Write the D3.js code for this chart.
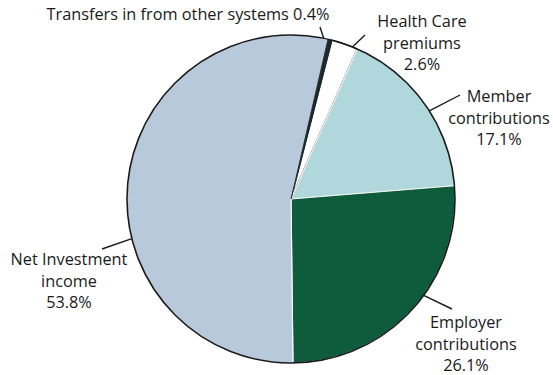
<!DOCTYPE html>
<html>
<head>
<meta charset="utf-8">
<script src="https://cdn.jsdelivr.net/npm/d3@7"></script>
<style>
  html, body { margin: 0; padding: 0; background: #fff; }
  svg { display: block; }
  text { font-family: "Open Sans", sans-serif; fill: #1a1a1a; }
</style>
</head>
<body>
<svg id="chart" width="553" height="375"></svg>
<script>
// Revenue sources, in percent of total
const categories = [
  "Transfers in from other systems",
  "Health Care premiums",
  "Member contributions",
  "Employer contributions",
  "Net Investment income"
];
const values = [0.4, 2.6, 17.1, 26.1, 53.8];
const valueLabels = ["0.4%", "2.6%", "17.1%", "26.1%", "53.8%"];
const labelLines = [
  ["Transfers in from other systems 0.4%"],
  ["Health Care", "premiums", "2.6%"],
  ["Member", "contributions", "17.1%"],
  ["Employer", "contributions", "26.1%"],
  ["Net Investment", "income", "53.8%"]
];

// Slice colours
const fills = ["#1d2a2b", "#ffffff", "#b0d7db", "#0e5c3c", "#b7c9db"];

// Label placement: text anchor, leader start angle (deg, clockwise from 12 o'clock), leader end
const labelLayout = [
  { x: 188, y: 20, leaderDeg: 11.5, lx: 320, ly: 27 },
  { x: 422, y: 27, leaderDeg: 22, lx: 365, ly: 35 },
  { x: 499, y: 102, leaderDeg: 57.5, lx: 460, ly: 95 },
  { x: 466, y: 328, leaderDeg: 126, lx: 452, ly: 309 },
  { x: 69, y: 265, leaderDeg: 256, lx: 102, ly: 249 }
];

const svg = d3.select("#chart");
const cx = 291, cy = 199, R = 164;
const rad = d => d * Math.PI / 180;

const pie = d3.pie()
  .sort(null)
  .value(d => d)
  .startAngle(rad(13))
  .endAngle(rad(13 + 360));

const arcs = pie(values);
const arc = d3.arc().innerRadius(0).outerRadius(R);

const g = svg.append("g").attr("transform", `translate(${cx},${cy})`);

// Dark border for the narrow slices, light seams elsewhere
const strokes = ["#1d2a2b", "#1a1a1a", "#f4f6f6", "#f4f6f6", "#f4f6f6"];
const strokeW = [0.6, 1.4, 1.2, 1.2, 1.2];

g.selectAll("path.slice")
  .data(arcs)
  .join("path")
  .attr("class", "slice")
  .attr("d", arc)
  .attr("fill", (d, i) => fills[i])
  .attr("stroke", (d, i) => strokes[i])
  .attr("stroke-width", (d, i) => strokeW[i])
  .attr("stroke-linejoin", "round");

// Redraw the narrow dark slice on top so the seams do not hide it
g.append("path")
  .attr("d", arc(arcs[0]))
  .attr("fill", fills[0])
  .attr("stroke", fills[0])
  .attr("stroke-width", 0.8);

// Outer rim
g.append("circle")
  .attr("r", R)
  .attr("fill", "none")
  .attr("stroke", "#1a1a1a")
  .attr("stroke-width", 1.6);

// Leader lines
labelLayout.forEach((L, i) => {
  const a = rad(L.leaderDeg);
  const x0 = cx + R * Math.sin(a), y0 = cy - R * Math.cos(a);
  svg.append("line")
    .attr("x1", x0).attr("y1", y0)
    .attr("x2", L.lx).attr("y2", L.ly)
    .attr("stroke", "#1a1a1a")
    .attr("stroke-width", 1.4);
});

// Labels
const lineGap = 21.5;
labelLayout.forEach((L, i) => {
  const t = svg.append("text")
    .attr("x", L.x).attr("y", L.y)
    .attr("text-anchor", "middle")
    .attr("font-size", 16.3);
  labelLines[i].forEach((s, j) => {
    t.append("tspan")
      .attr("x", L.x)
      .attr("dy", j === 0 ? 0 : lineGap)
      .text(s);
  });
});
</script>
</body>
</html>
